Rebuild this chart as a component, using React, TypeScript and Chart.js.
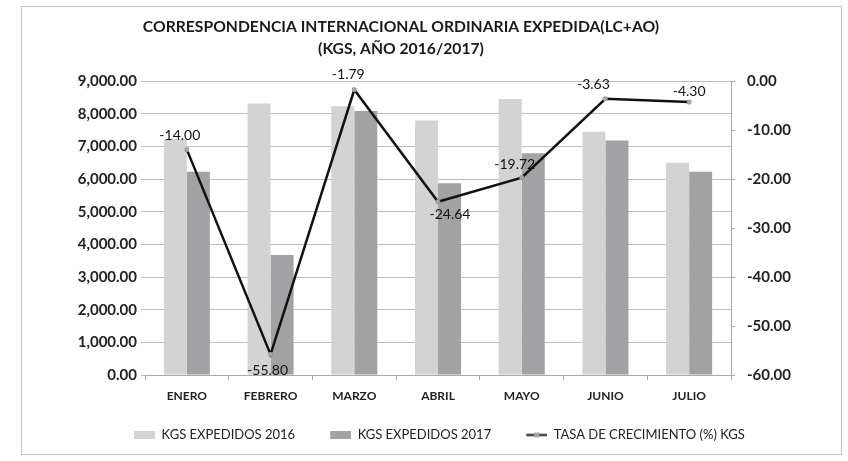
import React, { useEffect, useRef } from "react";
import { Chart, registerables } from "chart.js";

Chart.register(...registerables);

const MONTHS = ["ENERO", "FEBRERO", "MARZO", "ABRIL", "MAYO", "JUNIO", "JULIO"];
const KGS_2016 = [7230, 8310, 8230, 7790, 8450, 7450, 6500];
const KGS_2017 = [6220, 3670, 8080, 5870, 6790, 7180, 6220];
const GROWTH = [-14.0, -55.8, -1.79, -24.64, -19.72, -3.63, -4.3];
const SERIES_NAMES = ["KGS EXPEDIDOS 2016", "KGS EXPEDIDOS 2017", "TASA DE CRECIMIENTO (%) KGS"];
const TITLE_LINES = ["CORRESPONDENCIA INTERNACIONAL ORDINARIA EXPEDIDA(LC+AO)", "(KGS, AÑO 2016/2017)"];
const LEFT_MIN = 0;
const LEFT_MAX = 9000;
const LEFT_STEP = 1000;
const RIGHT_MIN = -60;
const RIGHT_MAX = 0;
const RIGHT_STEP = 10;

// style: offsets of the data labels from their points
const LABEL_OFFSETS: [number, number][] = [
  [-7, -14],
  [-3, 16],
  [-6, -15],
  [12, 13],
  [-7, -13],
  [-12, -14],
  [0, -11],
];

const FONT = "Lato, 'DejaVu Sans', sans-serif";
const C2016 = "#d3d3d3";
const C2017 = "#a2a2a4";

function makeBoxIcon(color: string) {
  const c = document.createElement("canvas");
  c.width = 46;
  c.height = 8;
  const x = c.getContext("2d")!;
  x.fillStyle = color;
  x.fillRect(25, 0, 21, 8);
  return c;
}
function makeLineIcon() {
  const c = document.createElement("canvas");
  c.width = 46;
  c.height = 9;
  const x = c.getContext("2d")!;
  x.strokeStyle = "#111";
  x.lineWidth = 2;
  x.beginPath();
  x.moveTo(25, 4.5);
  x.lineTo(46, 4.5);
  x.stroke();
  x.fillStyle = "#aaa";
  x.fillRect(33, 2, 5, 5);
  return c;
}

const framePlugin = {
  id: "frame",
  beforeDraw(chart: any) {
    const { ctx } = chart;
    ctx.save();
    ctx.fillStyle = "#ffffff";
    ctx.fillRect(0, 0, chart.width, chart.height);
    ctx.strokeStyle = "#c4c4c4";
    ctx.lineWidth = 1;
    ctx.strokeRect(21.5, 6.5, 820, 448);
    ctx.restore();
  },
};

const titlePlugin = {
  id: "customTitle",
  afterDraw(chart: any) {
    const { ctx } = chart;
    ctx.save();
    ctx.fillStyle = "#1a1a1a";
    ctx.font = `bold 15.7px ${FONT}`;
    ctx.textAlign = "center";
    ctx.textBaseline = "middle";
    ctx.fillText(TITLE_LINES[0], 401, 27);
    ctx.fillText(TITLE_LINES[1], 401, 49);
    ctx.restore();
  },
};

const dataLabelPlugin = {
  id: "growthLabels",
  afterDatasetsDraw(chart: any) {
    const { ctx } = chart;
    const meta = chart.getDatasetMeta(2);
    ctx.save();
    ctx.fillStyle = "#111";
    ctx.font = `14px ${FONT}`;
    ctx.textAlign = "center";
    ctx.textBaseline = "middle";
    meta.data.forEach((pt: any, i: number) => {
      const [dx, dy] = LABEL_OFFSETS[i];
      ctx.fillText(GROWTH[i].toFixed(2), pt.x + dx, pt.y + dy);
    });
    ctx.restore();
  },
};

export default function App() {
  const ref = useRef<HTMLCanvasElement>(null);
  useEffect(() => {
    document.body.style.margin = "0";
    const icons = [makeBoxIcon(C2016), makeBoxIcon(C2017), makeLineIcon()];
    const chart = new Chart(ref.current!, {
      type: "bar",
      data: {
        labels: MONTHS,
        datasets: [
          {
            type: "bar",
            label: SERIES_NAMES[0],
            data: KGS_2016,
            backgroundColor: C2016,
            yAxisID: "y",
            order: 1,
            categoryPercentage: 0.55,
            barPercentage: 1,
          },
          {
            type: "bar",
            label: SERIES_NAMES[1],
            data: KGS_2017,
            backgroundColor: C2017,
            yAxisID: "y",
            order: 1,
            categoryPercentage: 0.55,
            barPercentage: 1,
          },
          {
            type: "line",
            label: SERIES_NAMES[2],
            data: GROWTH,
            borderColor: "#111",
            borderWidth: 2.5,
            backgroundColor: "#aaa",
            pointStyle: "rect",
            pointRadius: 2.5,
            pointBackgroundColor: "#aaa",
            pointBorderColor: "#999",
            pointBorderWidth: 1,
            tension: 0,
            yAxisID: "y1",
            order: 0,
          } as any,
        ],
      },
      options: {
        responsive: false,
        animation: false,
        layout: { padding: { left: 30, right: 24, top: 81, bottom: 9.5 } },
        plugins: {
          title: { display: false },
          tooltip: { enabled: false },
          legend: {
            position: "bottom",
            labels: {
              usePointStyle: true,
              pointStyleWidth: 46,
              boxHeight: 8,
              padding: 10,
              color: "#222",
              font: { family: FONT, size: 13 },
              sort: (a: any, b: any) => a.datasetIndex - b.datasetIndex,
              generateLabels: (ch: any) => {
                const items = (Chart.defaults.plugins.legend.labels as any).generateLabels(ch);
                items.forEach((it: any) => {
                  it.pointStyle = icons[it.datasetIndex];
                });
                return items;
              },
            },
          },
        },
        scales: {
          x: {
            offset: true,
            grid: {
              offset: true,
              drawOnChartArea: false,
              drawTicks: true,
              tickLength: 5,
              color: "#a8a8a8",
            },
            border: { display: true, color: "#a8a8a8" },
            ticks: {
              color: "#222",
              padding: 9,
              font: { family: FONT, size: 12, weight: "bold" },
            },
            afterFit: (s: any) => {
              s.height = 43.5;
            },
          },
          y: {
            position: "left",
            min: LEFT_MIN,
            max: LEFT_MAX,
            grid: { color: "#bdbdbd", tickLength: 4 },
            border: { display: false },
            ticks: {
              stepSize: LEFT_STEP,
              color: "#222",
              padding: 4,
              font: { family: FONT, size: 15, weight: "bold" },
              callback: (v: any) =>
                Number(v).toLocaleString("en-US", { minimumFractionDigits: 2, maximumFractionDigits: 2 }),
            },
            afterFit: (s: any) => {
              s.width = 115;
            },
          },
          y1: {
            position: "right",
            min: RIGHT_MIN,
            max: RIGHT_MAX,
            grid: { drawOnChartArea: false, color: "#a8a8a8", tickLength: 4 },
            border: { display: true, color: "#a8a8a8" },
            ticks: {
              stepSize: RIGHT_STEP,
              color: "#222",
              padding: 12,
              font: { family: FONT, size: 15, weight: "bold" },
              callback: (v: any) => (Number(v) === 0 ? "0.00" : Number(v).toFixed(2)),
            },
            afterFit: (s: any) => {
              s.width = 93;
            },
          },
        },
      },
      plugins: [framePlugin, titlePlugin, dataLabelPlugin],
    });
    return () => chart.destroy();
  }, []);
  return (
    <div style={{ width: 848, height: 461 }}>
      <canvas ref={ref} width={848} height={461} style={{ display: "block" }} />
    </div>
  );
}
